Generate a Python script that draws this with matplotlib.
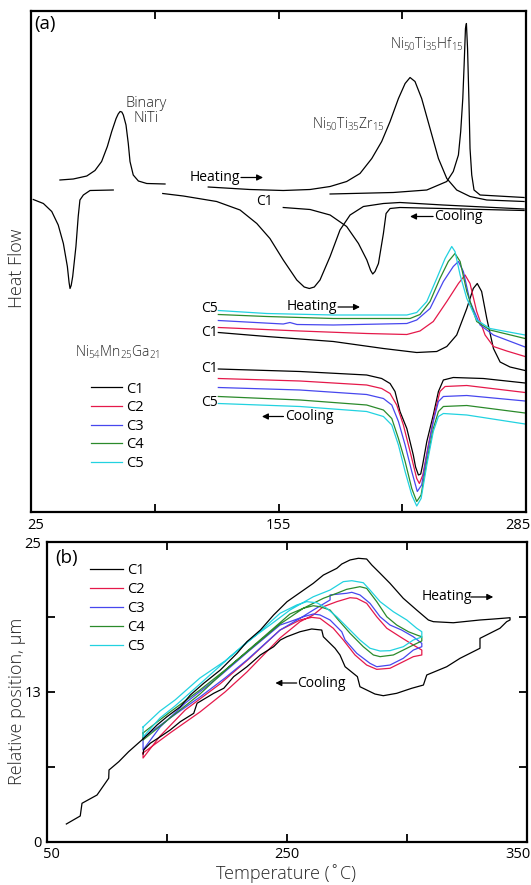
import matplotlib
matplotlib.use("Agg")
import matplotlib.pyplot as plt
import matplotlib.transforms as mtransforms

plt.rcParams['font.family'] = ['Open Sans', 'DejaVu Sans']
plt.rcParams['mathtext.default'] = 'regular'

# ---------------- panel (a): DSC heat flow (arbitrary units) ----------------
binary_heat_T = [40.2, 47.2, 54.3, 58.6, 62.1, 65.1, 67.4, 69.7, 70.8, 71.8, 72.7, 73.5, 74.9, 76.1,
                 77.0, 78.7, 81.4, 85.8, 95.4]
binary_heat_hf = [66.4, 66.6, 67.2, 68.3, 70.1, 73.1, 76.1, 78.7, 79.6, 80.1, 80.0, 79.4, 77.4, 73.7,
                  70.1, 67.4, 66.2, 65.7, 65.6]
binary_cool_T = [26.2, 31.5, 35.9, 39.3, 42.0, 44.1, 45.0, 45.5, 46.1, 46.9, 48.6, 49.8, 50.7, 52.5, 56.0, 68.2]
binary_cool_hf = [62.5, 61.7, 60.1, 57.4, 53.7, 49.1, 45.9, 44.7, 45.3, 47.1, 53.1, 59.1, 62.4, 63.4, 64.3, 64.4]

zr_heat_T = [118.1, 140.0, 157.5, 171.6, 182.1, 190.8, 197.8, 204.0, 209.2, 213.6, 218.0, 221.5, 224.1,
             226.7, 230.2, 234.6, 239.0, 243.4, 248.6, 255.6, 264.4, 284.0]
zr_heat_hf = [65.0, 64.5, 64.3, 64.5, 65.1, 66.1, 67.7, 70.7, 74.1, 78.1, 82.7, 85.7, 86.9,
              86.1, 82.7, 76.7, 70.7, 66.7, 64.4, 63.1, 62.4, 62.1]
zr_cool_T = [94.2, 105.0, 122.5, 134.8, 143.6, 150.5, 157.5, 164.6, 168.5, 171.2, 173.8, 176.8, 182.1,
             187.3, 192.6, 199.6, 210.1, 218.8, 241.4, 284.0]
zr_cool_hf = [63.7, 63.2, 62.1, 60.4, 57.7, 54.7, 50.4, 46.4, 45.0, 44.7, 45.0, 46.4, 51.1,
              56.4, 59.4, 61.1, 61.7, 61.9, 61.4, 60.6]

hf_heat_T = [182.1, 215.3, 232.9, 243.4, 246.8, 249.5, 250.7, 251.8, 252.5, 253.2, 253.7, 254.3,
             255.0, 255.6, 256.5, 257.7, 260.9, 284.0]
hf_heat_hf = [63.6, 63.9, 64.4, 66.1, 68.1, 71.4, 76.1, 82.7, 89.4, 96.7, 97.7, 92.7,
              82.7, 72.7, 67.4, 64.4, 63.4, 62.9]
hf_cool_T = [157.5, 171.6, 182.1, 190.8, 197.0, 201.4, 203.4, 204.5, 205.7, 207.5, 210.1, 211.5,
             213.6, 218.8, 241.4, 284.0]
hf_cool_hf = [60.9, 60.5, 59.4, 57.1, 53.7, 50.4, 48.3, 47.6, 48.1, 49.7, 55.7, 59.7,
              60.7, 60.9, 60.7, 60.3]

# Ni54Mn25Ga21, cycles C1..C5
cycles = ['C1', 'C2', 'C3', 'C4', 'C5']
cycle_colors = ['black', '#e5194a', '#4747ee', '#2b8a2b', '#22d2e0']

nmg_heat_T = [
    [123.4, 148.8, 183.8, 210.1, 227.6, 238.1, 243.4, 248.6, 253.9, 257.3, 259.4, 261.7, 264.4,
     267.9, 271.4, 276.6, 284.5],
    [123.4, 166.3, 201.3, 222.4, 229.3, 236.3, 243.4, 249.5, 253.0, 255.6, 259.1, 263.5, 267.9,
     274.9, 284.5],
    [123.4, 157.5, 161.0, 164.7, 183.8, 222.4, 227.6, 234.6, 241.6, 246.8, 249.5, 252.1, 255.6,
     260.9, 267.9, 284.5],
    [123.4, 148.8, 183.8, 224.1, 229.3, 234.6, 239.8, 244.2, 247.7, 250.4, 253.9, 259.1, 266.1, 284.5],
    [123.4, 148.8, 183.8, 222.4, 227.6, 232.9, 238.1, 242.5, 246.0, 247.7, 250.4, 253.9, 259.1,
     266.1, 284.5],
]
nmg_heat_hf = [
    [35.9, 35.1, 34.1, 32.7, 31.9, 32.1, 33.1, 35.4, 40.7, 44.7, 45.7, 44.1, 38.7,
     32.7, 30.0, 29.0, 28.3],
    [36.9, 36.2, 35.7, 35.5, 36.2, 38.1, 42.1, 45.7, 47.4, 45.7, 40.1, 35.4, 33.1,
     32.2, 31.1],
    [38.3, 37.6, 37.9, 37.5, 37.4, 37.7, 38.4, 40.7, 46.1, 49.1, 50.1, 48.1, 42.1,
     37.4, 35.4, 33.0],
    [39.5, 39.1, 38.7, 38.7, 39.5, 42.1, 46.7, 50.1, 51.7, 50.1, 44.1, 38.1, 36.4, 34.7],
    [40.3, 39.7, 39.4, 39.4, 39.9, 42.1, 46.7, 50.7, 53.1, 52.1, 47.4, 42.7, 38.4,
     36.7, 35.4],
]
nmg_cool_T = [
    [123.4, 166.3, 201.3, 209.2, 213.6, 216.2, 218.8, 222.4, 225.8, 227.0, 228.5, 229.7, 230.7,
     232.9, 236.3, 239.0, 241.6, 246.8, 262.6, 284.5],
    [123.4, 166.3, 201.3, 209.2, 213.6, 217.1, 220.6, 224.1, 227.6, 229.0, 230.8, 233.7, 237.2,
     239.8, 242.5, 253.9, 284.5],
    [123.4, 166.3, 201.3, 210.1, 214.5, 218.0, 221.5, 225.0, 227.9, 230.2, 232.9, 236.3, 239.0,
     241.6, 253.9, 284.5],
    [123.4, 166.3, 201.3, 210.1, 214.5, 218.0, 221.5, 225.0, 227.6, 229.9, 232.9, 236.3, 239.0,
     241.6, 253.9, 284.5],
    [123.4, 166.3, 201.3, 210.1, 214.5, 218.0, 221.5, 225.0, 227.6, 229.9, 232.9, 236.3, 239.0,
     241.6, 253.9, 284.5],
]
nmg_cool_hf = [
    [28.6, 28.1, 27.4, 26.7, 25.7, 24.1, 20.1, 16.7, 11.4, 9.0, 7.4, 7.6, 9.4,
     14.1, 19.4, 24.1, 26.4, 26.9, 26.7, 25.8],
    [26.7, 26.2, 25.4, 24.7, 23.7, 21.4, 17.4, 12.1, 6.7, 5.7, 7.4, 13.4, 20.1,
     24.1, 25.1, 25.3, 23.9],
    [24.9, 24.4, 23.5, 22.7, 21.4, 18.1, 13.4, 8.1, 4.1, 5.4, 11.4, 18.1, 22.1,
     23.1, 23.3, 22.2],
    [23.1, 22.4, 21.4, 20.4, 18.7, 14.7, 10.1, 4.7, 2.1, 3.4, 10.1, 16.7, 20.1,
     21.1, 21.3, 19.8],
    [21.7, 21.1, 20.1, 19.1, 17.4, 13.4, 8.1, 3.4, 1.2, 2.7, 9.4, 16.1, 19.1,
     19.7, 19.4, 17.6],
]

top_ticks = [25, 90, 155, 220, 285]
top_ticklabels = ['25', '', '155', '', '285']

# ---------------- panel (b): relative position (um) vs temperature ----------------
pos_T = [
    # C1: heating then cooling
    [62.1, 70.8, 71.9, 81.3, 88.6, 88.8, 94.9, 101.1, 110.5, 118.8, 125.1, 133.4, 139.7, 148.0, 158.4,
     168.9, 175.1, 183.5, 191.8, 200.2, 206.2, 216.6, 222.9, 231.3, 234.4, 239.6, 244.8, 250.0, 253.2,
     258.4, 264.6, 272.9, 281.3, 288.6, 291.7, 304.2, 320.9, 329.3, 339.7,
     339.7, 337.6, 333.4, 320.9, 320.9, 308.4, 300.1, 287.6, 285.5, 278.2, 268.8, 260.4, 255.2, 245.8,
     244.2, 236.5, 233.3, 230.2, 222.9, 221.9, 215.6, 208.3, 200.0, 196.0, 191.8, 183.5, 175.1, 166.8,
     160.6, 154.3, 143.9, 141.8, 133.4, 127.1, 120.9, 114.6, 110.5, 110.1],
    # C2
    [110.1, 127.0, 145.7, 161.4, 175.1, 195.8, 208.3, 216.6, 222.9, 231.3, 239.6, 243.8, 250.0, 256.3,
     262.6, 270.9, 279.2, 284.5,
     284.5, 279.2, 272.9, 264.6, 256.3, 250.0, 242.7, 235.4, 229.1, 220.8, 215.6, 208.3, 200.0, 195.8,
     177.0, 158.2, 136.5, 120.8, 110.1, 110.1],
    # C3
    [110.1, 127.0, 145.7, 161.4, 175.1, 195.8, 208.3, 216.6, 227.1, 227.1, 237.5, 240.7, 245.8, 252.1,
     258.4, 264.6, 271.9, 279.2, 284.5,
     284.5, 279.2, 272.9, 264.6, 256.3, 252.1, 243.8, 236.5, 234.4, 227.1, 220.8, 216.6, 210.4, 202.0,
     195.8, 177.0, 158.2, 136.5, 120.8, 110.1, 110.1],
    # C4
    [110.1, 127.0, 145.7, 161.4, 175.1, 195.8, 210.4, 222.9, 231.3, 237.5, 245.8, 250.0, 256.3, 262.6,
     268.8, 276.1, 281.3, 284.5,
     284.5, 279.2, 272.9, 266.7, 258.4, 254.2, 247.9, 239.6, 232.3, 227.1, 220.8, 216.6, 210.4, 202.0,
     183.3, 164.5, 145.7, 127.0, 110.1, 110.1],
    # C5
    [110.1, 120.7, 130.1, 145.7, 161.4, 175.1, 192.0, 202.0, 216.6, 227.1, 235.4, 240.7, 247.9, 252.1,
     258.4, 266.7, 275.1, 281.3, 284.5,
     284.5, 279.2, 272.9, 264.6, 258.4, 252.1, 245.8, 237.5, 231.3, 225.0, 218.8, 212.5, 206.2, 195.8,
     180.1, 164.5, 145.7, 130.1, 120.7, 110.1, 110.1],
]
pos_um = [
    [1.46, 2.13, 3.19, 3.88, 5.28, 5.97, 6.66, 7.50, 8.61, 9.72, 10.42, 11.25, 12.23, 13.20, 14.31,
     15.71, 16.68, 17.65, 18.91, 20.02, 20.58, 21.55, 22.24, 22.80, 23.16, 23.50, 23.64, 23.58, 23.08,
     22.39, 21.55, 20.30, 19.32, 18.49, 18.35, 18.26, 18.49, 18.57, 18.68,
     18.49, 18.35, 17.80, 16.96, 16.13, 15.29, 14.59, 13.90, 13.06, 12.79, 12.37, 12.17, 12.31, 12.92,
     13.76, 14.59, 15.57, 16.13, 17.09, 17.65, 17.74, 17.51, 17.09, 16.82, 16.26, 15.57, 14.59, 13.76,
     12.79, 12.37, 11.54, 10.70, 10.00, 9.31, 8.75, 8.20, 7.64, 7.30],
    [7.39, 9.06, 10.81, 12.48, 14.15, 16.99, 18.35, 18.91, 19.60, 20.02, 20.35, 20.30, 19.88, 18.76,
     17.80, 17.09, 16.40, 15.98,
     15.57, 15.43, 15.01, 14.46, 14.37, 14.73, 15.57, 16.82, 17.80, 18.63, 18.71, 18.49, 17.93, 17.65,
     15.32, 13.15, 10.98, 8.81, 6.97, 7.39],
    [8.64, 10.31, 12.06, 13.65, 15.15, 17.65, 18.63, 19.32, 20.16, 20.58, 20.72, 20.80, 20.58, 19.88,
     18.76, 18.07, 17.65, 17.09, 16.54,
     16.26, 15.98, 15.29, 14.73, 14.59, 14.87, 15.71, 16.82, 17.51, 18.49, 18.91, 18.99, 18.76, 18.35,
     18.07, 15.98, 13.82, 11.56, 9.56, 7.64, 8.64],
    [9.06, 10.81, 12.65, 14.31, 15.82, 18.15, 19.47, 20.30, 20.72, 21.05, 21.27, 21.13, 20.02, 18.76,
     18.07, 17.51, 17.24, 17.09,
     16.74, 16.40, 15.98, 15.57, 15.43, 15.57, 16.26, 17.38, 18.49, 19.32, 19.60, 19.68, 19.47, 18.99,
     16.82, 14.65, 12.31, 10.31, 8.47, 9.06],
    [9.56, 10.89, 11.81, 13.65, 15.07, 16.65, 18.32, 19.32, 20.43, 20.99, 21.69, 21.77, 21.60, 20.99,
     20.02, 19.18, 18.49, 17.80, 17.51,
     17.07, 16.82, 16.26, 15.93, 15.90, 16.13, 16.82, 17.93, 18.76, 19.47, 19.93, 20.02, 19.74, 19.05,
     17.15, 15.40, 13.15, 11.31, 10.31, 8.72, 9.56],
]

bot_xticks = [50, 125, 200, 275, 350]
bot_xticklabels = ['50', '', '250', '', '350']
bot_yticks = [0, 6.25, 12.5, 18.75, 25]
bot_yticklabels = ['0', '', '13', '', '25']

GRAY = '#262626'
LW = 0.9
ARROW = dict(arrowstyle='-|>', color='black', lw=0.9, mutation_scale=9, shrinkA=0, shrinkB=0)

fig = plt.figure(figsize=(5.31, 8.85), dpi=100)
ax1 = fig.add_axes([31 / 531, 1 - 512 / 885, 495 / 531, 501 / 885])
ax2 = fig.add_axes([47 / 531, 1 - 841.5 / 885, 479.5 / 531, 299.5 / 885])


def nudge_edge_labels(ax, dx_first, dx_last):
    labels = ax.get_xticklabels()
    labels[0].set_transform(labels[0].get_transform() +
                            mtransforms.ScaledTranslation(dx_first / 72, 0, fig.dpi_scale_trans))
    labels[-1].set_horizontalalignment('right')
    labels[-1].set_transform(labels[-1].get_transform() +
                             mtransforms.ScaledTranslation(dx_last / 72, 0, fig.dpi_scale_trans))


# ----- panel (a) -----
for T, hf in [(binary_heat_T, binary_heat_hf), (binary_cool_T, binary_cool_hf),
              (zr_heat_T, zr_heat_hf), (zr_cool_T, zr_cool_hf),
              (hf_heat_T, hf_heat_hf), (hf_cool_T, hf_cool_hf)]:
    ax1.plot(T, hf, color='black', lw=LW)

heat_lines = []
for k in range(5):
    ln, = ax1.plot(nmg_heat_T[k], nmg_heat_hf[k], color=cycle_colors[k], lw=LW)
    ax1.plot(nmg_cool_T[k], nmg_cool_hf[k], color=cycle_colors[k], lw=LW)
    heat_lines.append(ln)

ax1.set_xlim(25, 285)
ax1.set_ylim(0, 100.2)
ax1.set_xticks(top_ticks)
ax1.set_xticklabels(top_ticklabels)
ax1.set_yticks([])
ax1.tick_params(axis='x', direction='in', top=True, length=6, width=1.3, labelsize=10.5, pad=4)
nudge_edge_labels(ax1, 3.2, 3.5)

ax1.text(26.6, 97.6, '(a)', fontsize=13.5, va='center', ha='left')
ax1.text(85.4, 80.2, 'Binary\nNiTi', fontsize=10.5, ha='center', va='center', color=GRAY,
         linespacing=1.0, fontweight='light')
ax1.text(191.5, 77.6, r'Ni$_{50}$Ti$_{35}$Zr$_{15}$', fontsize=10, ha='center', va='center',
         color=GRAY, fontweight='light')
ax1.text(232.9, 93.6, r'Ni$_{50}$Ti$_{35}$Hf$_{15}$', fontsize=10, ha='center', va='center',
         color=GRAY, fontweight='light')
ax1.text(70.2, 32.0, r'Ni$_{54}$Mn$_{25}$Ga$_{21}$', fontsize=10, ha='center', va='center',
         color=GRAY, fontweight='light')

ax1.text(134.6, 66.9, 'Heating', fontsize=10, ha='right', va='center')
ax1.annotate('', xy=(146.9, 66.9), xytext=(135.3, 66.9), arrowprops=ARROW)
ax1.text(147.5, 62.1, 'C1', fontsize=10, ha='center', va='center')
ax1.text(236.8, 59.1, 'Cooling', fontsize=10, ha='left', va='center')
ax1.annotate('', xy=(224.1, 59.1), xytext=(236.2, 59.1), arrowprops=ARROW)

ax1.text(186.0, 41.0, 'Heating', fontsize=10, ha='right', va='center')
ax1.annotate('', xy=(197.8, 41.0), xytext=(186.3, 41.0), arrowprops=ARROW)
ax1.text(158.5, 19.1, 'Cooling', fontsize=10, ha='left', va='center')
ax1.annotate('', xy=(146.3, 19.1), xytext=(157.6, 19.1), arrowprops=ARROW)
for lab, hf in [('C5', 40.8), ('C1', 35.8), ('C1', 28.8), ('C5', 21.9)]:
    ax1.text(122.9, hf, lab, fontsize=10, ha='right', va='center')

ax1.legend(heat_lines, cycles, loc='center left', bbox_to_anchor=(0.121, 0.171), frameon=False,
           handlelength=2.1, handletextpad=0.3, labelspacing=0.25, borderpad=0, borderaxespad=0,
           fontsize=10.5)

ax1.set_ylabel('Heat Flow', fontsize=13, color=GRAY, fontweight='light')
ax1.yaxis.set_label_coords(-0.010, 0.486)

# ----- panel (b) -----
loop_lines = []
for k in range(5):
    ln, = ax2.plot(pos_T[k], pos_um[k], color=cycle_colors[k], lw=LW)
    loop_lines.append(ln)
loop_lines[0].set_zorder(3)

ax2.set_xlim(50, 350)
ax2.set_ylim(0, 25)
ax2.set_xticks(bot_xticks)
ax2.set_xticklabels(bot_xticklabels)
ax2.set_yticks(bot_yticks)
ax2.set_yticklabels(bot_yticklabels)
ax2.tick_params(direction='in', top=True, right=True, length=6, width=1.3, labelsize=10.5, pad=4)
nudge_edge_labels(ax2, 3.5, 3.0)

ax2.text(55.0, 23.7, '(b)', fontsize=13.5, ha='left', va='center')
ax2.text(284.4, 20.41, 'Heating', fontsize=10, ha='left', va='center')
ax2.annotate('', xy=(329.2, 20.41), xytext=(315.1, 20.41), arrowprops=ARROW)
ax2.text(206.6, 13.23, 'Cooling', fontsize=10, ha='left', va='center')
ax2.annotate('', xy=(192.9, 13.23), xytext=(206.2, 13.23), arrowprops=ARROW)

ax2.legend(loop_lines, cycles, loc='center left', bbox_to_anchor=(0.090, 0.778), frameon=False,
           handlelength=2.25, handletextpad=0.3, labelspacing=0.27, borderpad=0, borderaxespad=0,
           fontsize=10.5)

ax2.set_ylabel('Relative position, \u03bcm', fontsize=13, color=GRAY, fontweight='light')
ax2.yaxis.set_label_coords(-0.044, 0.469)
ax2.set_xlabel('Temperature (\u02daC)', fontsize=13, color=GRAY, fontweight='light')
ax2.xaxis.set_label_coords(0.498, -0.075)

for ax in (ax1, ax2):
    for sp in ax.spines.values():
        sp.set_linewidth(1.6)

fig.savefig('out.png', dpi=100)
